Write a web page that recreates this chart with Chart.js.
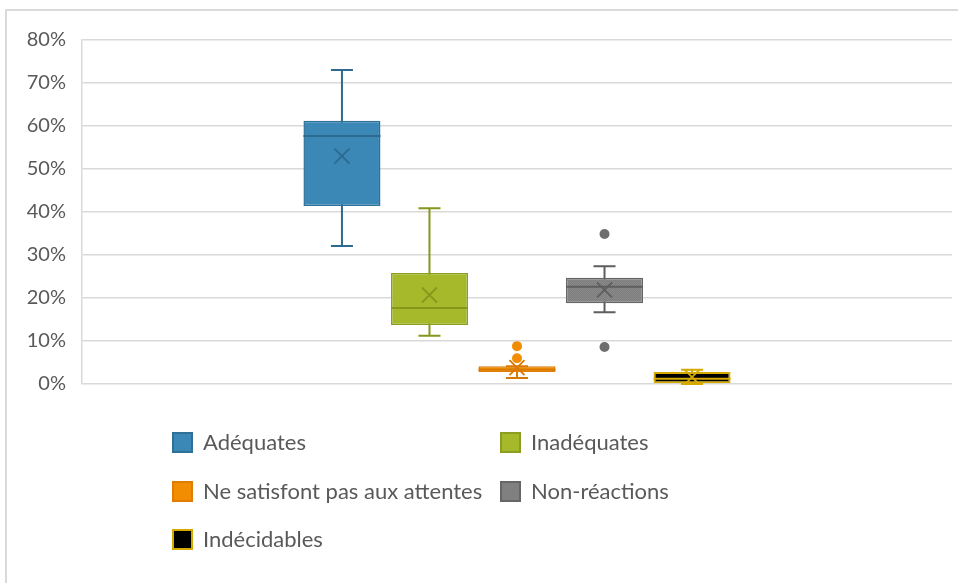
<!DOCTYPE html>
<html>
<head>
<meta charset="utf-8">
<script src="https://cdn.jsdelivr.net/npm/chart.js@4.4.1/dist/chart.umd.min.js"></script>
<style>
  html, body { margin: 0; padding: 0; background: #fff; }
  #wrap { position: relative; width: 958px; height: 583px; overflow: hidden; }
  #frame { position: absolute; left: 5px; top: 9px; width: 1000px; height: 600px;
           border-left: 2px solid #DADADA; border-top: 2px solid #DADADA; }
  #chart { position: absolute; left: 0; top: 0; }
  .leg { position: absolute; font-family: Lato, "Open Sans", sans-serif; font-size: 22px; color: #595959;
         white-space: nowrap; line-height: 24px; }
  .leg i { position: absolute; left: -31px; top: 2px; width: 17px; height: 17px; border: 2px solid; }
</style>
</head>
<body>
<div id="wrap">
  <div id="frame"></div>
  <canvas id="chart" width="958" height="583"></canvas>
  <div id="legend"></div>
</div>
<script>
// Séries (en %)
const series = ['Adéquates', 'Inadéquates', 'Ne satisfont pas aux attentes', 'Non-réactions', 'Indécidables'];
const whiskerLow  = [32.1, 11.2, 1.4, 16.7, 0.0];
const q1          = [41.4, 13.7, 2.8, 18.8, 0.0];
const median      = [57.7, 17.7, 3.3, 22.6, 1.2];
const q3          = [61.2, 25.8, 4.1, 24.7, 2.8];
const whiskerHigh = [73.0, 40.9, 4.1, 27.4, 3.3];
const means       = [53.0, 20.7, 3.8, 21.9, 1.6];
const outliers    = [[], [], [8.8, 6.0], [34.9, 8.6], []];
const yTicks      = [0, 10, 20, 30, 40, 50, 60, 70, 80];

const fills   = ['#3B87B6', '#A6B92A', '#F28C00', '#808080', '#000000'];
const borders = ['#2F7099', '#8C9E1F', '#E07D00', '#666666', '#D4A900'];
const marks   = ['#2C6A90', '#86971C', '#D97800', '#5E5E5E', '#D4A900'];

// motif pointillé pour Non-réactions
function dotPattern() {
  const c = document.createElement('canvas');
  c.width = 2; c.height = 2;
  const g = c.getContext('2d');
  g.fillStyle = '#7B7B7B'; g.fillRect(0, 0, 2, 2);
  g.fillStyle = '#8C8C8C'; g.fillRect(0, 0, 1, 1); g.fillRect(1, 1, 1, 1);
  return g.createPattern(c, 'repeat');
}
const grayPat = dotPattern();

const datasets = series.map((name, i) => ({
  label: name,
  data: [[q1[i], q3[i]]],
  backgroundColor: i === 3 ? grayPat : fills[i],
  borderColor: borders[i],
  borderWidth: i === 4 ? 2 : 1.5,
  borderSkipped: false,
  categoryPercentage: 0.503,
  barPercentage: 0.88
}));

const boxExtras = {
  id: 'boxExtras',
  beforeDatasetsDraw(chart) {
    const ctx = chart.ctx, y = chart.scales.y;
    chart.data.datasets.forEach((ds, i) => {
      const bar = chart.getDatasetMeta(i).data[0];
      const cx = bar.x, cap = 11;
      ctx.save();
      ctx.strokeStyle = marks[i];
      ctx.lineWidth = 2;
      ctx.beginPath();
      ctx.moveTo(cx, y.getPixelForValue(whiskerHigh[i]));
      ctx.lineTo(cx, y.getPixelForValue(whiskerLow[i]));
      [whiskerHigh[i], whiskerLow[i]].forEach(v => {
        const py = y.getPixelForValue(v);
        ctx.moveTo(cx - cap, py); ctx.lineTo(cx + cap, py);
      });
      ctx.stroke();
      ctx.restore();
    });
  },
  afterDatasetsDraw(chart) {
    const ctx = chart.ctx, y = chart.scales.y;
    chart.data.datasets.forEach((ds, i) => {
      const bar = chart.getDatasetMeta(i).data[0];
      const cx = bar.x, half = bar.width / 2;
      ctx.save();
      ctx.strokeStyle = marks[i];
      // médiane
      ctx.lineWidth = 2;
      const my = y.getPixelForValue(median[i]);
      ctx.beginPath();
      ctx.moveTo(cx - half, my); ctx.lineTo(cx + half, my);
      ctx.stroke();
      // moyenne (X)
      const py = y.getPixelForValue(means[i]), s = 7.5;
      ctx.lineWidth = 1.8;
      ctx.beginPath();
      ctx.moveTo(cx - s, py - s); ctx.lineTo(cx + s, py + s);
      ctx.moveTo(cx + s, py - s); ctx.lineTo(cx - s, py + s);
      ctx.stroke();
      // valeurs aberrantes
      ctx.fillStyle = i === 3 ? '#6E6E6E' : fills[i];
      outliers[i].forEach(v => {
        ctx.beginPath();
        ctx.arc(cx, y.getPixelForValue(v), 5, 0, Math.PI * 2);
        ctx.fill();
      });
      ctx.restore();
    });
  }
};

new Chart(document.getElementById('chart'), {
  type: 'bar',
  data: { labels: [''], datasets },
  options: {
    responsive: false,
    animation: false,
    layout: { padding: { top: 40, right: 6, bottom: 199, left: 0 } },
    plugins: { legend: { display: false }, tooltip: { enabled: false } },
    scales: {
      x: { display: false },
      y: {
        min: 0, max: 80,
        afterFit: s => { s.width = 82; },
        afterBuildTicks: s => { s.ticks = yTicks.map(v => ({ value: v })); },
        ticks: {
          padding: 16,
          color: '#595959',
          font: { family: 'Lato, "Open Sans", sans-serif', size: 20 },
          callback: v => v + '%'
        },
        grid: { color: '#D9D9D9', lineWidth: 1.5, drawTicks: false },
        border: { display: true, color: '#D9D9D9', width: 1.5 }
      }
    }
  },
  plugins: [boxExtras]
});

// Légende en deux colonnes
const legPos = [[203, 430], [531, 430], [203, 479], [531, 479], [203, 527]];
const legend = document.getElementById('legend');
series.forEach((name, i) => {
  const d = document.createElement('div');
  d.className = 'leg';
  d.style.left = legPos[i][0] + 'px';
  d.style.top = legPos[i][1] + 'px';
  const sw = document.createElement('i');
  sw.style.background = i === 3 ? '#808080' : fills[i];
  sw.style.borderColor = borders[i];
  d.appendChild(sw);
  d.appendChild(document.createTextNode(name));
  legend.appendChild(d);
});
</script>
</body>
</html>
